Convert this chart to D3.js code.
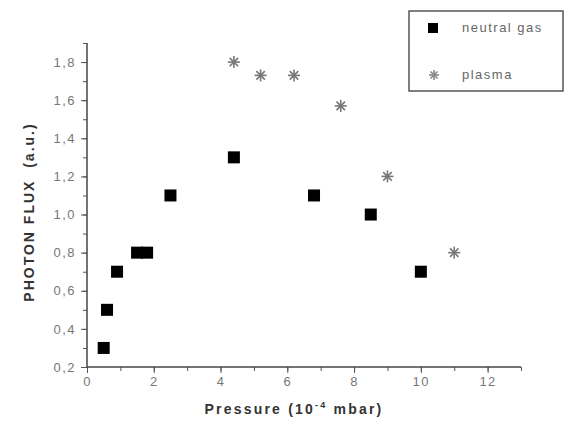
<!DOCTYPE html>
<html><head><meta charset="utf-8">
<script src="https://cdn.jsdelivr.net/npm/d3@7"></script>
<style>body{margin:0;background:#fff}</style>
</head><body>
<svg id="c" width="579" height="425"></svg>
<script>
const neutralX = [0.5, 0.6, 0.9, 1.5, 1.8, 2.5, 4.4, 6.8, 8.5, 10.0];
const neutralY = [0.3, 0.5, 0.7, 0.8, 0.8, 1.1, 1.3, 1.1, 1.0, 0.7];
const plasmaX = [4.4, 5.2, 6.2, 7.6, 9.0, 11.0];
const plasmaY = [1.8, 1.73, 1.73, 1.57, 1.2, 0.8];
const xTicks = [0, 2, 4, 6, 8, 10, 12];
const yTicks = [0.2, 0.4, 0.6, 0.8, 1.0, 1.2, 1.4, 1.6, 1.8];
const legendLabels = ["neutral gas", "plasma"];

const FONT = "Liberation Sans, Arial, sans-serif";
const svg = d3.select("#c");
const x = d3.scaleLinear().domain([0, 13]).range([87, 521]);
const y = d3.scaleLinear().domain([0.2, 1.9]).range([367, 43]);
const fmt = d => d3.format(".1f")(d).replace(".", ",");

const gx = svg.append("g").attr("transform", "translate(0,367)");
gx.call(d3.axisBottom(x).tickValues(d3.range(0, 14, 1)).tickSize(4).tickFormat(""));
gx.append("g").call(d3.axisBottom(x).tickValues(xTicks).tickSize(6).tickPadding(4).tickFormat(d3.format("d")));
const gy = svg.append("g").attr("transform", "translate(87,0)");
gy.call(d3.axisLeft(y).tickValues(d3.range(2, 20, 1).map(v => v / 10)).tickSize(4).tickFormat(""));
gy.append("g").call(d3.axisLeft(y).tickValues(yTicks).tickSize(6).tickPadding(5).tickFormat(fmt));
svg.selectAll(".domain").remove();
svg.selectAll(".tick line").attr("stroke", "#555");
svg.selectAll(".tick text").attr("fill", "#777").attr("font-family", FONT).attr("font-size", 13).attr("letter-spacing", 1.5);
svg.append("line").attr("x1", x(0)).attr("x2", x(13)).attr("y1", y(0.2)).attr("y2", y(0.2)).attr("stroke", "#444").attr("stroke-width", 1.5);
svg.append("line").attr("x1", x(0)).attr("x2", x(0)).attr("y1", y(0.2)).attr("y2", y(1.9)).attr("stroke", "#444").attr("stroke-width", 1.5);

// axis titles
svg.append("text").attr("x", 294).attr("y", 414).attr("text-anchor", "middle")
  .attr("font-family", FONT).attr("font-weight", "bold").attr("font-size", 14).attr("fill", "#333").attr("letter-spacing", 2.2)
  .html('Pressure (10<tspan dy="-6" font-size="9">-4</tspan><tspan dy="6"> mbar)</tspan>');
svg.append("text").attr("transform", "translate(34,212) rotate(-90)").attr("text-anchor", "middle")
  .attr("font-family", FONT).attr("font-weight", "bold").attr("font-size", 14).attr("fill", "#333").attr("letter-spacing", 2)
  .attr("xml:space", "preserve").text("PHOTON FLUX  (a.u.)");

function star(g, cx, cy, r, color) {
  for (let a = 0; a < 4; a++) {
    const t = a * Math.PI / 4;
    g.append("line").attr("x1", cx - r * Math.cos(t)).attr("y1", cy - r * Math.sin(t))
      .attr("x2", cx + r * Math.cos(t)).attr("y2", cy + r * Math.sin(t))
      .attr("stroke", color).attr("stroke-width", 1.6);
  }
}

svg.append("g").selectAll("rect").data(neutralX.map((d, i) => [d, neutralY[i]])).join("rect")
  .attr("x", d => x(d[0]) - 6).attr("y", d => y(d[1]) - 6).attr("width", 12).attr("height", 12).attr("fill", "#000");
const ps = svg.append("g");
plasmaX.forEach((d, i) => star(ps, x(d), y(plasmaY[i]), 6, "#777"));

// legend
svg.append("rect").attr("x", 409).attr("y", 11).attr("width", 154).attr("height", 80).attr("fill", "none").attr("stroke", "#555").attr("stroke-width", 1.5);
svg.append("rect").attr("x", 428).attr("y", 23).attr("width", 10).attr("height", 10).attr("fill", "#000");
star(svg, 434, 75, 5, "#888");
svg.selectAll(".leg").data(legendLabels).join("text").attr("x", 462).attr("y", (d, i) => 32 + i * 47)
  .attr("font-family", FONT).attr("font-size", 13).attr("fill", "#666").attr("letter-spacing", 1.5).text(d => d);
</script>
</body></html>
